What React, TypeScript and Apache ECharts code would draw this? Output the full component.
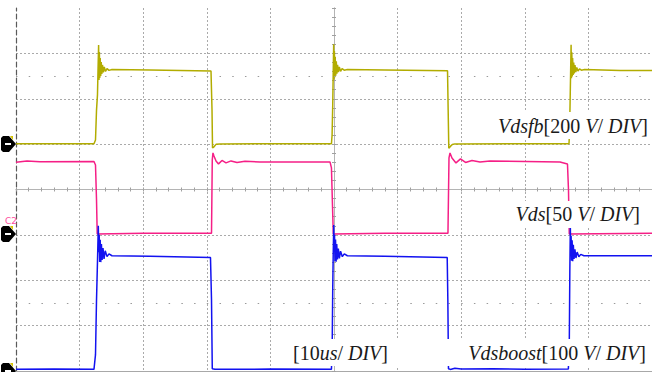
import React, { useEffect, useRef } from "react";
import * as echarts from "echarts";

// time axis: 10 us / division, 10 divisions
const timeMinUs = 0;
const timeMaxUs = 100;
const timeDivUs = 10;
const verticalDivs = 8;

const channelNames = ["Vdsfb", "Vds", "Vdsboost"];
const channelVoltsPerDiv = [200, 50, 100];
const channelGroundDiv = [5, 3, 0];
const channelColors = ["#b2ac00", "#f51f86", "#1212f0"];

// [time us, volts]
const vdsfb: number[][] = [
  [0, 2], [12.26, 2], [12.5, 18], [12.66, 150], [12.81, 217], [12.89, 318], [12.99, 437],
  [13.05, 283], [13.11, 406], [13.18, 292], [13.24, 380], [13.32, 300], [13.4, 362],
  [13.49, 309], [13.6, 349], [13.73, 316], [13.88, 340], [14.07, 320], [14.31, 333],
  [14.62, 325], [15.09, 329], [21.07, 327], [30.66, 322], [30.82, 150], [30.9, -17],
  [31.13, -12], [31.45, -1], [32.08, 1], [49.6, 2],
  [49.7, 40], [49.8, 170], [49.87, 300], [49.95, 440], [50.0, 285], [50.06, 410],
  [50.13, 295], [50.19, 385], [50.27, 302], [50.36, 365], [50.45, 310], [50.56, 350],
  [50.69, 317], [50.84, 340], [51.03, 321], [51.27, 333], [51.6, 326], [52.1, 329],
  [58, 327], [67.85, 323], [67.95, 150], [68.05, -18], [68.3, -10], [68.6, -2], [69, 1],
  [86.95, 2], [87.03, 50], [87.12, 180], [87.2, 310], [87.28, 438], [87.33, 290],
  [87.39, 405], [87.46, 298], [87.52, 380], [87.6, 305], [87.69, 360], [87.78, 312],
  [87.89, 348], [88.02, 318], [88.17, 338], [88.36, 322], [88.6, 332], [88.9, 326],
  [89.4, 329], [95, 325], [100, 324],
];

const vds: number[][] = [
  [0, 80], [1.73, 81.5], [3.77, 80.5], [12.26, 80.8], [12.5, 77], [12.66, 38.5],
  [12.77, 1.1], [20, 1.7], [30.74, 1.7], [30.86, 82.6], [30.97, 90.3], [31.13, 87],
  [31.45, 81.5], [31.84, 78.2], [32.39, 82], [33.02, 79.3], [33.81, 81.5], [34.75, 79.8],
  [36.0, 81.1], [38.36, 80.4], [49.37, 80.4], [49.6, 73.8], [49.76, 33], [49.89, 1.1],
  [58, 1.7], [67.92, 1.7], [68.08, 84.8], [68.24, 90.3], [68.55, 84.8], [69.18, 79.3],
  [69.89, 83.7], [70.68, 79.8], [71.7, 82], [72.96, 80.4], [74.53, 81.5], [85.53, 80.4],
  [86.71, 78.2], [86.87, 49.5], [86.99, 1.1], [100, 1.7],
];

const vdsboost: number[][] = [
  [0, 3.7], [6, 4.5], [12.26, 3.7], [12.5, 36], [12.66, 157], [12.81, 240], [12.94, 320],
  [13.02, 262], [13.08, 300], [13.16, 240], [13.24, 289], [13.33, 240], [13.43, 280],
  [13.54, 245], [13.68, 271], [13.84, 247], [14.03, 265], [14.31, 252], [14.62, 258],
  [15.09, 254], [21.07, 253], [30.58, 250], [30.74, 157], [30.86, 4.8], [31.29, 3.7],
  [40, 4.2], [49.6, 4], [49.72, 60], [49.8, 180], [49.88, 260], [49.96, 322], [50.02, 262],
  [50.08, 300], [50.16, 242], [50.24, 290], [50.33, 241], [50.43, 280], [50.54, 246],
  [50.68, 270], [50.84, 248], [51.03, 264], [51.31, 252], [51.62, 258], [52.1, 254],
  [58, 253], [67.8, 250], [67.9, 157], [68.0, 5], [68.3, 3.5], [69, 6], [70, 4.5],
  [75, 5], [80, 4], [86.85, 4.5], [86.9, 5], [87.0, 70], [87.08, 220], [87.16, 318],
  [87.22, 262], [87.28, 298], [87.36, 243], [87.44, 288], [87.53, 242], [87.63, 278],
  [87.74, 247], [87.88, 268], [88.04, 249], [88.23, 262], [88.5, 252], [88.8, 257],
  [89.3, 254], [95, 254], [100, 254],
];

const channelData = [vdsfb, vds, vdsboost];

const scaleLabels = ["[200 ", "[50 ", "[100 "];

const serif = "'Liberation Serif', 'DejaVu Serif', serif";
const richStyles = {
  m: { fontFamily: serif, fontStyle: "italic", fontSize: 20, fill: "#1a1a1a" },
  n: { fontFamily: serif, fontStyle: "normal", fontSize: 20, fill: "#1a1a1a" },
};

function channelText(i: number) {
  return `{m|${channelNames[i]}}{n|${scaleLabels[i]}}{m|V}{n|/ }{m|DIV}{n|]}`;
}

const GRID = { left: 16, top: 8, right: 0, bottom: 1 };

function marker(y: number) {
  return {
    type: "group",
    silent: true,
    z: 60,
    children: [
      {
        type: "polygon",
        z: 60,
        shape: {
          points: [
            [1, y - 6], [3, y - 8], [9, y - 8], [16, y], [9, y + 8], [3, y + 8], [1, y + 6],
          ],
        },
        style: { fill: "#000" },
      },
      { type: "rect", z: 61, shape: { x: 5, y: y - 1, width: 6, height: 2 }, style: { fill: "#fff" } },
      {
        type: "polygon",
        z: 61,
        shape: { points: [[10, y - 8], [13, y - 8], [13, y - 4]] },
        style: { fill: "#d6c400" },
      },
    ],
  };
}

function whiteBox(x: number, y: number, w: number, h: number) {
  return { type: "rect", z: 50, silent: true, shape: { x, y, width: w, height: h }, style: { fill: "#fff" } };
}

function label(x: number, y: number, text: string) {
  return {
    type: "text",
    z: 55,
    x,
    y,
    silent: true,
    style: { text, rich: richStyles, align: "right", verticalAlign: "middle" },
  };
}

const centerAxisBase = {
  type: "value",
  min: timeMinUs,
  max: timeMaxUs,
  interval: timeDivUs,
  axisLabel: { show: false },
  splitLine: { show: false },
  axisLine: { show: true, lineStyle: { color: "#b4b4b4", width: 1 } },
  axisTick: { show: true, length: 2, lineStyle: { color: "#a0a0a0" } },
  minorTick: { show: true, splitNumber: 5, length: 2, lineStyle: { color: "#a0a0a0" } },
};
const centerYAxisBase = {
  ...centerAxisBase,
  min: 0,
  max: verticalDivs,
  interval: 1,
};

export default function App() {
  const ref = useRef<HTMLDivElement>(null);
  useEffect(() => {
    if (!ref.current) return;
    const chart = echarts.init(ref.current, null, { renderer: "svg" });
    const plotH = 372 - GRID.top - GRID.bottom;
    const plotW = 652 - GRID.left - GRID.right;
    const gridLineColors = Array.from({ length: 11 }, (_, i) => (i === 0 ? "rgba(0,0,0,0)" : "#aaaaaa"));
    const hLineColors = Array.from({ length: 9 }, (_, i) => (i === 8 ? "rgba(0,0,0,0)" : "#aaaaaa"));
    const series: any[] = channelData.map((d, i) => ({
      type: "line",
      name: channelNames[i],
      xAxisIndex: 0,
      yAxisIndex: 0,
      showSymbol: false,
      symbol: "none",
      lineStyle: { color: channelColors[i], width: 1.5 },
      data: d.map(([t, v]) => [t, channelGroundDiv[i] + v / channelVoltsPerDiv[i]]),
      silent: true,
      markLine:
        i === 0
          ? {
              silent: true,
              symbol: "none",
              label: { show: false },
              lineStyle: { color: "#9a9a9a", type: [1.5, 11.22], width: 1 },
              data: [{ yAxis: 1.5 }, { yAxis: 6.5 }],
            }
          : undefined,
      z: 3 + i,
    }));
    chart.setOption({
      animation: false,
      backgroundColor: "#ffffff",
      grid: { ...GRID },
      xAxis: [
        {
          type: "value",
          min: timeMinUs,
          max: timeMaxUs,
          interval: timeDivUs,
          position: "bottom",
          axisLine: { show: true, lineStyle: { color: "#a8a8a8", width: 1 } },
          axisTick: { show: false },
          axisLabel: { show: false },
          splitLine: { show: true, lineStyle: { color: gridLineColors, type: [2, 2], width: 1 } },
        },
        { ...centerAxisBase, position: "bottom", offset: -plotH / 2, axisTick: { ...centerAxisBase.axisTick, inside: true } },
        { ...centerAxisBase, position: "bottom", offset: -plotH / 2, axisTick: { ...centerAxisBase.axisTick, inside: false } },
      ],
      yAxis: [
        {
          type: "value",
          min: 0,
          max: verticalDivs,
          interval: 1,
          position: "left",
          axisLine: { show: true, lineStyle: { color: "#5a5a5a", width: 1.2, type: [5, 3] } },
          axisTick: { show: false },
          axisLabel: { show: false },
          splitLine: { show: true, lineStyle: { color: hLineColors, type: [2, 2], width: 1 } },
        },
        { ...centerYAxisBase, position: "left", offset: -plotW / 2, axisTick: { ...centerYAxisBase.axisTick, inside: true } },
        { ...centerYAxisBase, position: "left", offset: -plotW / 2, axisTick: { ...centerYAxisBase.axisTick, inside: false } },
      ],
      series,
      graphic: [
        marker(144),
        marker(234),
        marker(371),
        {
          type: "text",
          z: 55,
          x: 5,
          y: 216,
          silent: true,
          style: { text: "C2", fill: "#ff4fa0", fontSize: 9, fontFamily: "'DejaVu Sans', sans-serif" },
        },
        whiteBox(492, 112, 160, 27),
        whiteBox(510, 201, 136, 27),
        whiteBox(288, 339, 364, 27),
        label(648, 126, channelText(0)),
        label(640, 214, channelText(1)),
        label(646, 353, channelText(2)),
        label(388, 353, `{n|[10}{m|us}{n|/ }{m|DIV}{n|]}`),
      ],
    });
    return () => chart.dispose();
  }, []);
  return (
    <div
      ref={ref}
      style={{ position: "fixed", left: 0, top: 0, width: 652, height: 372, background: "#fff" }}
    />
  );
}
